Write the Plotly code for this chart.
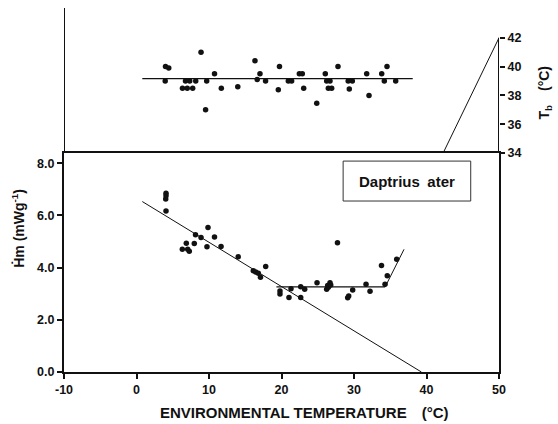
import plotly.graph_objects as go

# ---- data ----
# Body temperature (top panel)
tb_ta = [4.0, 4.45, 3.96, 6.34, 7.0, 7.75, 6.76, 7.34, 8.17, 8.9, 9.68, 9.53, 10.76, 11.7,
         13.97, 16.34, 17.03, 16.65, 17.8, 19.72, 19.56, 20.94, 21.4, 22.46, 22.87, 23.06,
         24.86, 26.04, 26.23, 26.69, 26.46, 26.92, 27.79, 29.2, 29.77, 29.35, 31.75, 32.07,
         33.82, 34.55, 34.18, 35.75]
tb_vals = [40.0, 39.9, 39.0, 38.5, 38.5, 38.5, 39.0, 39.0, 39.0, 41.0, 39.0, 37.0, 39.5, 38.5,
           38.6, 40.4, 39.5, 39.1, 39.0, 40.0, 38.4, 39.0, 39.0, 39.5, 39.5, 38.5,
           37.45, 39.5, 39.0, 39.0, 38.5, 38.5, 40.0, 39.0, 39.0, 38.45, 39.5, 38.0,
           39.5, 40.0, 39.0, 39.0]
tb_mean_x = [0.8, 38.1]
tb_mean_y = [39.16, 39.16]
tb_diag_x = [42.3, 50.0]
tb_diag_y = [34.0, 42.0]

# Metabolic rate (bottom panel)
hm_ta = [4.07, 4.07, 4.03, 4.07, 6.32, 6.87, 7.06, 7.28, 7.97, 8.14, 8.9, 9.86, 9.72, 10.76,
         11.66, 14.03, 16.11, 16.44, 16.8, 17.1, 17.82, 19.79, 19.79, 21.03, 21.31, 22.65,
         23.2, 22.65, 24.9, 26.23, 26.46, 26.69, 26.79, 26.37, 27.72, 29.13, 29.27, 29.82,
         31.66, 32.21, 33.79, 34.28, 34.59, 35.89]
hm_vals = [6.85, 6.75, 6.63, 6.17, 4.70, 4.93, 4.70, 4.63, 4.92, 5.26, 5.15, 5.54, 4.80, 5.17,
           4.81, 4.42, 3.88, 3.83, 3.78, 3.63, 4.04, 3.10, 2.99, 2.85, 3.19, 3.27,
           3.17, 2.85, 3.42, 3.17, 3.25, 3.42, 3.33, 3.31, 4.95, 2.84, 2.91, 3.14,
           3.36, 3.09, 4.08, 3.36, 3.69, 4.32]
cond_x = [0.8, 39.3]
cond_y = [6.53, 0.0]
tnz_x = [19.3, 34.3]
tnz_y = [3.26, 3.26]
rise_x = [34.3, 36.9]
rise_y = [3.26, 4.70]

x_ticks = [-10, 0, 10, 20, 30, 40, 50]
x_ticktext = ["-10", "0", "10", "20", "30", "40", "50"]
hm_ticks = [0, 2, 4, 6, 8]
hm_ticktext = ["0.0", "2.0", "4.0", "6.0", "8.0"]
tb_ticks = [34, 36, 38, 40, 42]

FONT = "Liberation Sans"
BLACK = "#111111"

fig = go.Figure()

# bottom panel
fig.add_trace(go.Scatter(x=cond_x, y=cond_y, mode="lines", line=dict(color=BLACK, width=1),
                         xaxis="x", yaxis="y", hoverinfo="skip"))
fig.add_trace(go.Scatter(x=tnz_x, y=tnz_y, mode="lines", line=dict(color=BLACK, width=1.3),
                         xaxis="x", yaxis="y", hoverinfo="skip"))
fig.add_trace(go.Scatter(x=rise_x, y=rise_y, mode="lines", line=dict(color=BLACK, width=1),
                         xaxis="x", yaxis="y", hoverinfo="skip"))
fig.add_trace(go.Scatter(x=hm_ta, y=hm_vals, mode="markers",
                         marker=dict(color=BLACK, size=5.5), xaxis="x", yaxis="y"))

# top panel
fig.add_trace(go.Scatter(x=tb_mean_x, y=tb_mean_y, mode="lines", line=dict(color=BLACK, width=1.2),
                         xaxis="x2", yaxis="y2", hoverinfo="skip"))
fig.add_trace(go.Scatter(x=tb_diag_x, y=tb_diag_y, mode="lines", line=dict(color=BLACK, width=1),
                         xaxis="x2", yaxis="y2", hoverinfo="skip"))
fig.add_trace(go.Scatter(x=tb_ta, y=tb_vals, mode="markers",
                         marker=dict(color=BLACK, size=5.5), xaxis="x2", yaxis="y2"))

tickfont = dict(family=FONT, size=12.5, color=BLACK, weight="bold")
split = 219 / 364

fig.update_layout(
    width=558, height=424,
    margin=dict(l=64, r=59, t=8, b=52),
    paper_bgcolor="white", plot_bgcolor="white",
    showlegend=False,
    xaxis=dict(domain=[0, 1], range=[-10, 50], anchor="y", tickvals=x_ticks,
               ticktext=x_ticktext,
               ticks="outside", ticklen=5, tickwidth=1.5, tickcolor=BLACK,
               showline=True, linewidth=2, linecolor=BLACK, mirror=True,
               showgrid=False, zeroline=False, tickfont=tickfont),
    yaxis=dict(domain=[0, split], range=[0, 8.39], anchor="x", tickvals=hm_ticks,
               ticktext=hm_ticktext, ticks="outside", ticklen=5, tickwidth=1.5,
               tickcolor=BLACK, showline=True, linewidth=2, linecolor=BLACK, mirror=True,
               showgrid=False, zeroline=False, tickfont=tickfont),
    xaxis2=dict(domain=[0, 1], range=[-10, 50], anchor="y2", visible=False),
    yaxis2=dict(domain=[split, 1], range=[34, 44.07], anchor="x2", side="right",
                tickvals=tb_ticks, ticks="outside", ticklen=5, tickwidth=1.5, tickcolor=BLACK,
                showline=False, showgrid=False, zeroline=False, tickfont=tickfont),
    shapes=[
        dict(type="line", xref="x2", yref="y2", x0=-10, x1=-10, y0=34, y1=44.07,
             line=dict(color=BLACK, width=2)),
        dict(type="line", xref="x2", yref="y2", x0=50, x1=50, y0=34, y1=42,
             line=dict(color=BLACK, width=2)),
        dict(type="rect", xref="x", yref="y", x0=28.5, x1=46.1, y0=6.55, y1=8.08,
             line=dict(color="#333333", width=1)),
    ],
    annotations=[
        dict(text="Daptrius\u2002ater", xref="x", yref="y", x=37.3, y=7.31,
             showarrow=False, font=dict(family=FONT, size=15, color=BLACK, weight="bold")),
        dict(text="ENVIRONMENTAL TEMPERATURE\u2002\u2002(°C)", xref="paper", yref="paper",
             x=0.553, y=-0.11, xanchor="center", yanchor="middle", showarrow=False,
             font=dict(family=FONT, size=15, color=BLACK, weight="bold")),
        dict(text="Ḣm (mWg<sup>-1</sup>)", xref="paper", yref="paper",
             x=-0.106, y=0.396, xanchor="center", yanchor="middle", textangle=-90,
             showarrow=False, font=dict(family=FONT, size=14, color=BLACK, weight="bold")),
        dict(text="T<sub>b</sub>\u2002\u2002(°C)", xref="paper", yref="paper",
             x=1.106, y=0.768, xanchor="center", yanchor="middle", textangle=-90,
             showarrow=False, font=dict(family=FONT, size=14, color=BLACK, weight="bold")),
    ],
)

fig.write_html("out.html")
